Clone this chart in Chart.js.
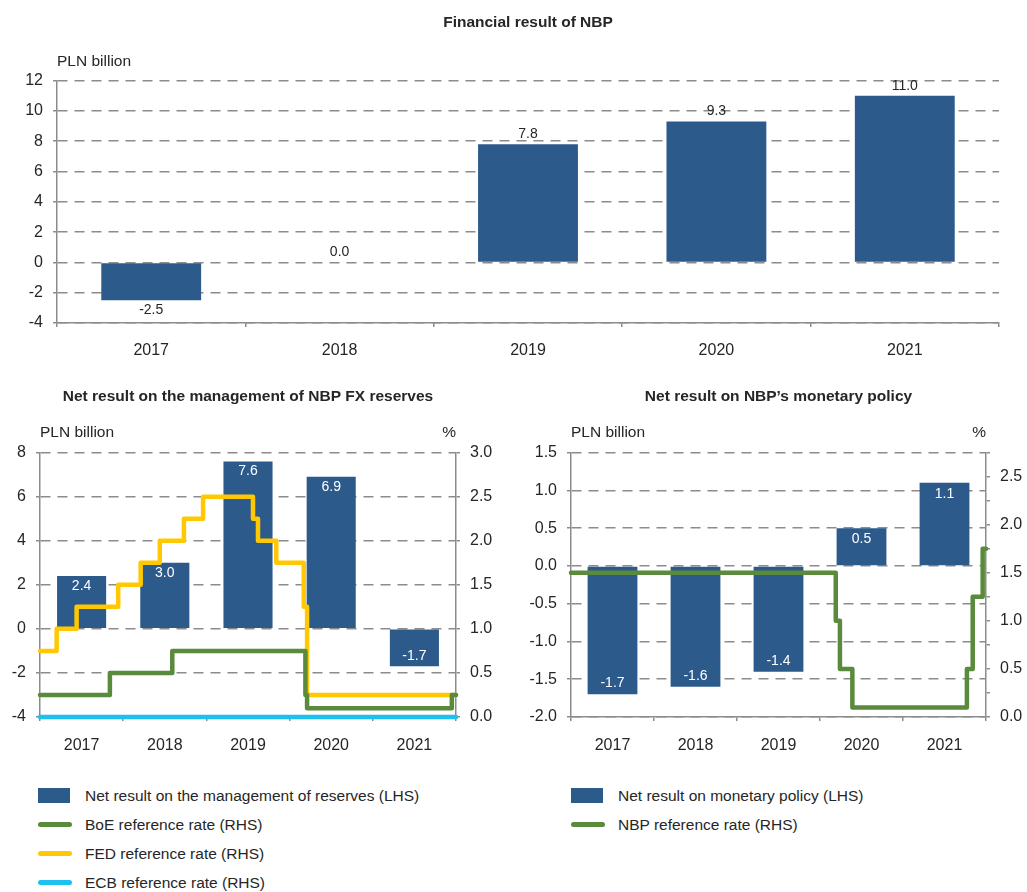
<!DOCTYPE html>
<html>
<head>
<meta charset="utf-8">
<script src="https://cdn.jsdelivr.net/npm/chart.js@4.4.1/dist/chart.umd.min.js"></script>
<style>
  body { margin: 0; background: #fff; overflow: hidden; }
  .box { position: absolute; }
  .legend { position: absolute; font: 15.5px 'Liberation Sans', Arial, sans-serif; color: #262626; }
  .legend .row { display: flex; align-items: center; height: 29px; }
  .legend .swatch { flex: none; }
</style>
</head>
<body>
<div class="box" style="left:0;top:0;width:1027px;height:370px"><canvas id="topChart" width="1027" height="370"></canvas></div>
<div class="box" style="left:0;top:370px;width:510px;height:400px"><canvas id="fxChart" width="510" height="400"></canvas></div>
<div class="box" style="left:510px;top:370px;width:517px;height:400px"><canvas id="mpChart" width="517" height="400"></canvas></div>
<div class="legend" id="fxLegend" style="left:38px;top:781px"></div>
<div class="legend" id="mpLegend" style="left:571px;top:781px"></div>
<script>
const years = ['2017', '2018', '2019', '2020', '2021'];
const financialResult = [-2.5, 0.0, 7.8, 9.3, 11.0];
const reservesResult = [2.4, 3.0, 7.6, 6.9, -1.7];
const policyResult = [-1.7, -1.6, -1.4, 0.5, 1.1];

// rate changes: date (as fraction of year) and the rate from that date on
const boeDates = [2017.0, 2017.84, 2018.59, 2020.19, 2020.21, 2021.95, 2022.0];
const boeRates = [0.25, 0.5, 0.75, 0.25, 0.1, 0.25, 0.25];
const fedDates = [2017.0, 2017.2, 2017.44, 2017.94, 2018.21, 2018.44, 2018.73, 2018.96, 2019.56, 2019.62, 2019.84, 2020.17, 2020.21, 2022.0];
const fedRates = [0.75, 1.0, 1.25, 1.5, 1.75, 2.0, 2.25, 2.5, 2.25, 2.0, 1.75, 1.25, 0.25, 0.25];
const ecbDates = [2017.0, 2022.0];
const ecbRates = [0.0, 0.0];
const nbpDates = [2017.0, 2020.19, 2020.24, 2020.39, 2021.77, 2021.84, 2021.96, 2022.0];
const nbpRates = [1.5, 1.0, 0.5, 0.1, 0.5, 1.25, 1.75, 1.75];

const FONT = "'Liberation Sans', Arial, sans-serif";
const TEXT = '#262626';
const GRID = '#8c8c8c';
const BAR = '#2c5a8b';
const GREEN = '#5a8a3c';
const YELLOW = '#ffc800';
const CYAN = '#1ec0f0';

Chart.defaults.font.family = FONT;
Chart.defaults.font.size = 16;
Chart.defaults.color = TEXT;
Chart.defaults.animation = false;
Chart.defaults.plugins.legend.display = false;
Chart.defaults.plugins.tooltip.enabled = false;

function points(dates, rates) {
  return dates.map((d, i) => ({ x: d, y: rates[i] }));
}

const unitLabels = {
  id: 'unitLabels',
  afterDraw(chart, args, opts) {
    const { ctx, chartArea } = chart;
    ctx.save();
    ctx.font = '15.5px ' + FONT;
    ctx.fillStyle = TEXT;
    ctx.textBaseline = 'middle';
    const y = chartArea.top - opts.offset;
    if (opts.left) { ctx.textAlign = 'left'; ctx.fillText(opts.left, chartArea.left, y); }
    if (opts.right) { ctx.textAlign = 'right'; ctx.fillText(opts.right, chartArea.right, y); }
    ctx.restore();
  }
};

const barLabels = {
  id: 'barLabels',
  afterDatasetsDraw(chart, args, opts) {
    const ctx = chart.ctx;
    const meta = chart.getDatasetMeta(0);
    const data = chart.data.datasets[0].data;
    ctx.save();
    ctx.font = opts.size + 'px ' + FONT;
    ctx.fillStyle = opts.color;
    ctx.textAlign = 'center';
    ctx.textBaseline = 'middle';
    meta.data.forEach((bar, i) => {
      const v = data[i];
      const up = v >= 0;
      let dy = up ? -opts.gap : opts.gap;
      if (opts.inside) dy = -dy;
      ctx.fillText(v.toFixed(1), bar.x, bar.y + dy);
    });
    ctx.restore();
  }
};

function catAxis(height, pad) {
  return {
    type: 'category',
    offset: true,
    grid: { display: true, offset: true, drawOnChartArea: false, tickLength: 4, color: GRID, lineWidth: 1.5 },
    border: { color: GRID, width: 1.5 },
    ticks: { padding: pad, maxRotation: 0 },
    afterFit: s => { s.height = height; }
  };
}

// hidden time axis for the step lines, spanning the whole plot width
const timeAxis = { type: 'linear', display: false, offset: false, min: 2017, max: 2022 };

function valueAxis(pos, min, max, step, width, fmt, onArea) {
  return {
    position: pos,
    min: min,
    max: max,
    ticks: { stepSize: step, padding: 10, autoSkip: false, callback: fmt },
    grid: { drawOnChartArea: onArea, tickLength: 4, color: GRID, lineWidth: 1.5 },
    border: { color: GRID, width: 1.5, dash: [10, 7] },
    afterFit: s => { s.width = width; }
  };
}

function lineSet(label, dates, rates, color) {
  return {
    type: 'line',
    label: label,
    data: points(dates, rates),
    xAxisID: 'x2',
    yAxisID: 'y2',
    borderColor: color,
    backgroundColor: color,
    borderWidth: 4.5,
    borderCapStyle: 'round',
    borderJoinStyle: 'round',
    stepped: true,
    pointRadius: 0,
    clip: false,
    order: 1
  };
}

function buildLegend(chart, id) {
  const el = document.getElementById(id);
  chart.data.datasets.forEach(ds => {
    const row = document.createElement('div');
    row.className = 'row';
    const sw = document.createElement('div');
    sw.className = 'swatch';
    if (ds.type === 'line') {
      sw.style.cssText = 'width:34px;height:5px;border-radius:3px;margin-right:13px;background:' + ds.borderColor;
    } else {
      sw.style.cssText = 'width:32px;height:15px;margin-right:15px;background:' + ds.backgroundColor;
    }
    const txt = document.createElement('span');
    txt.textContent = ds.label;
    row.appendChild(sw);
    row.appendChild(txt);
    el.appendChild(row);
  });
}

const oneDec = v => v.toFixed(1);
const halfOnly = v => Math.abs(v * 2 - Math.round(v * 2)) < 1e-9 ? v.toFixed(1) : '';

function titleOpts(text, top, bottom) {
  return { display: true, fullSize: false, text: text, font: { size: 15.5, weight: 'bold' }, padding: { top: top, bottom: bottom } };
}

new Chart(document.getElementById('topChart'), {
  type: 'bar',
  data: {
    labels: years,
    datasets: [{
      label: 'Financial result of NBP',
      data: financialResult,
      backgroundColor: BAR,
      barPercentage: 0.53,
      categoryPercentage: 1,
      grouped: false
    }]
  },
  options: {
    responsive: false,
    layout: { padding: { left: 0, right: 28, top: 0, bottom: 9 } },
    scales: {
      x: catAxis(38, 14),
      y: valueAxis('left', -4, 12, 2, 57, v => v, true)
    },
    plugins: {
      title: titleOpts('Financial result of NBP', 13, 49),
      unitLabels: { left: 'PLN billion', offset: 19 },
      barLabels: { inside: false, color: TEXT, size: 14, gap: 10 }
    }
  },
  plugins: [unitLabels, barLabels]
});

const fxChart = new Chart(document.getElementById('fxChart'), {
  type: 'bar',
  data: {
    labels: years,
    datasets: [
      { label: 'Net result on the management of reserves (LHS)', data: reservesResult, backgroundColor: BAR, barPercentage: 0.59, categoryPercentage: 1, grouped: false, order: 2 },
      lineSet('BoE reference rate (RHS)', boeDates, boeRates, GREEN),
      lineSet('FED reference rate (RHS)', fedDates, fedRates, YELLOW),
      lineSet('ECB reference rate (RHS)', ecbDates, ecbRates, CYAN)
    ]
  },
  options: {
    responsive: false,
    layout: { padding: { left: 0, right: 0, top: 0, bottom: 14 } },
    scales: {
      x: catAxis(39, 15),
      x2: timeAxis,
      y: valueAxis('left', -4, 8, 2, 40, v => v, true),
      y2: valueAxis('right', 0, 3, 0.5, 54, oneDec, false)
    },
    plugins: {
      title: titleOpts('Net result on the management of NBP FX reserves', 17, 47),
      unitLabels: { left: 'PLN billion', right: '%', offset: 20 },
      barLabels: { inside: true, color: '#fff', size: 14, gap: 10 }
    }
  },
  plugins: [unitLabels, barLabels]
});

const mpChart = new Chart(document.getElementById('mpChart'), {
  type: 'bar',
  data: {
    labels: years,
    datasets: [
      { label: 'Net result on monetary policy (LHS)', data: policyResult, backgroundColor: BAR, barPercentage: 0.6, categoryPercentage: 1, grouped: false, order: 2 },
      lineSet('NBP reference rate (RHS)', nbpDates, nbpRates, GREEN)
    ]
  },
  options: {
    responsive: false,
    layout: { padding: { left: 0, right: 0, top: 0, bottom: 14 } },
    scales: {
      x: catAxis(39, 15),
      x2: timeAxis,
      y: valueAxis('left', -2, 1.5, 0.5, 61, oneDec, true),
      y2: valueAxis('right', 0, 2.75, 0.25, 41, halfOnly, false)
    },
    plugins: {
      title: titleOpts('Net result on NBP\u2019s monetary policy', 17, 47),
      unitLabels: { left: 'PLN billion', right: '%', offset: 20 },
      barLabels: { inside: true, color: '#fff', size: 14, gap: 11 }
    }
  },
  plugins: [unitLabels, barLabels]
});

buildLegend(fxChart, 'fxLegend');
buildLegend(mpChart, 'mpLegend');
</script>
</body>
</html>
